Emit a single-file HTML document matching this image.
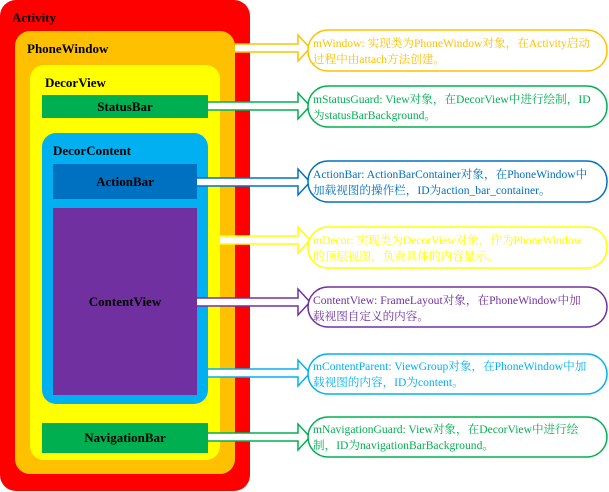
<!DOCTYPE html>
<html><head><meta charset="utf-8"><style>
body{margin:0;background:#fff}
svg{display:block}
.l{font-family:"Liberation Serif","Noto Serif CJK SC",serif;font-weight:bold;font-size:13px;fill:#000}
.t{font-family:"Liberation Serif","Noto Serif CJK SC",serif;font-size:11.6px}
</style></head><body>
<svg width="609" height="492" viewBox="0 0 609 492">
<rect x="0" y="0" width="250" height="491" rx="16" fill="#ff0000"/>
<text class="l" x="12" y="22">Activity</text>
<rect x="15" y="31" width="220" height="443" rx="15" fill="#ffc000"/>
<text class="l" x="27" y="53">PhoneWindow</text>
<rect x="30" y="65" width="190" height="395" rx="14" fill="#ffff00"/>
<text class="l" x="45" y="87">DecorView</text>
<rect x="42" y="95" width="166" height="23" fill="#00b050"/>
<text class="l" x="125" y="111" text-anchor="middle">StatusBar</text>
<rect x="42" y="133" width="166" height="271" rx="14" fill="#00b0f0"/>
<text class="l" x="53" y="155">DecorContent</text>
<rect x="53" y="164" width="144" height="35" fill="#0070c0"/>
<text class="l" x="125" y="186" text-anchor="middle">ActionBar</text>
<rect x="53" y="208" width="144" height="187" fill="#7030a0"/>
<text class="l" x="125" y="306" text-anchor="middle">ContentView</text>
<rect x="42" y="423" width="166" height="30" fill="#00b050"/>
<text class="l" x="125" y="442" text-anchor="middle">NavigationBar</text>

<g fill="#fff" stroke-width="1.5">
<path stroke="#ffc000" d="M235 44H298V35L310 48L298 61V52H235"/>
<path stroke="#00b050" d="M208 102H298V93L310 106L298 119V110H208"/>
<path stroke="#0070c0" d="M197 178H298V169L310 182L298 195V186H197"/>
<path stroke="#ffff00" d="M220 236H298V227L310 240L298 253V244H220"/>
<path stroke="#7030a0" d="M197 298H298V289L310 302L298 315V306H197"/>
<path stroke="#00b0f0" d="M208 369H298V360L310 373L298 386V377H208"/>
<path stroke="#00b050" d="M208 433H298V424L310 437L298 450V441H208"/>
</g>

<g fill="#fff" stroke-width="1.5">
<rect x="308" y="30" width="299" height="41" rx="20" stroke="#ffc000"/>
<rect x="308" y="86" width="299" height="41" rx="20" stroke="#00b050"/>
<rect x="308" y="161" width="299" height="41" rx="20" stroke="#0070c0"/>
<rect x="308" y="227" width="299" height="41" rx="20" stroke="#ffff00"/>
<rect x="308" y="287" width="299" height="40" rx="20" stroke="#7030a0"/>
<rect x="308" y="354" width="299" height="40" rx="20" stroke="#00b0f0"/>
<rect x="308" y="417" width="299" height="40" rx="20" stroke="#00b050"/>
</g>

<g class="t">
<text fill="#ffc000" x="313" y="47">mWindow: 实现类为PhoneWindow对象，在Activity启动<tspan x="313" y="63">过程中由attach方法创建。</tspan></text>
<text fill="#00b050" x="313" y="103">mStatusGuard: View对象，在DecorView中进行绘制，ID<tspan x="313" y="119">为statusBarBackground。</tspan></text>
<text fill="#0070c0" x="313" y="178">ActionBar: ActionBarContainer对象，在PhoneWindow中<tspan x="313" y="194">加载视图的操作栏，ID为action_bar_container。</tspan></text>
<text fill="#ffff00" x="313" y="244">mDecor: 实现类为DecorView对象，作为PhoneWindow<tspan x="313" y="260">的顶层视图，负责具体的内容显示。</tspan></text>
<text fill="#7030a0" x="313" y="304">ContentView: FrameLayout对象，在PhoneWindow中加<tspan x="313" y="320">载视图自定义的内容。</tspan></text>
<text fill="#00b0f0" x="313" y="370">mContentParent: ViewGroup对象，在PhoneWindow中加<tspan x="313" y="386">载视图的内容，ID为content。</tspan></text>
<text fill="#00b050" x="313" y="433">mNavigationGuard: View对象，在DecorView中进行绘<tspan x="313" y="449">制，ID为navigationBarBackground。</tspan></text>
</g>
</svg>
</body></html>
